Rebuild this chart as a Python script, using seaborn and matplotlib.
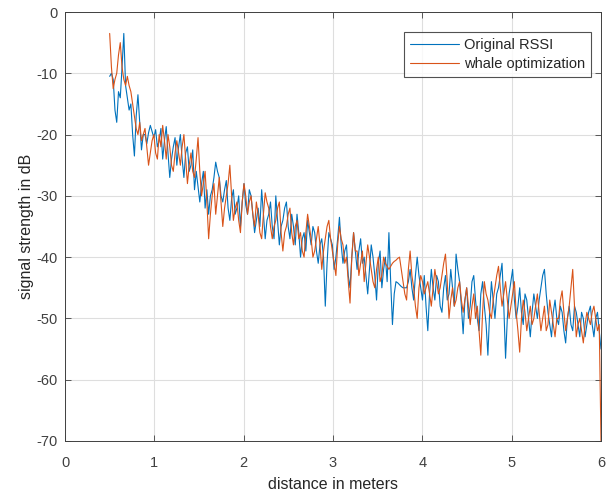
import numpy as np
import pandas as pd
import matplotlib
matplotlib.use("Agg")
import matplotlib.pyplot as plt
import seaborn as sns

blue_vals = [
    -10.5, -10, -11, -16, -18, -13, -14, -9, -3.5, -12, -14, -16, -15, -20, -23.5, -17, -13.5, -18, -22.5, -20,
    -20, -21.5, -19.7, -18.5, -19.5, -20.5, -19.2, -22, -21, -19, -24, -21, -18.7, -23, -27, -24, -22, -20.5, -25, -22,
    -20, -24, -27, -23, -22, -26, -25, -22.5, -29, -26, -28.5, -31, -28, -26, -32, -29, -33, -30, -29, -27,
    -24.5, -26, -27, -30, -31, -29, -27.5, -32, -34, -30.5, -29, -33, -32, -30, -35, -31, -28, -31.5, -33, -29,
    -30, -33, -36, -34, -32, -35, -29, -33, -37, -34, -33, -31, -35, -37, -30, -34, -38, -35, -34, -32,
    -31, -35, -37, -33, -35, -38, -33, -36, -40, -37, -36, -39, -34, -36, -38, -35, -36, -39, -41, -38,
    -37, -40, -48, -41, -36, -37, -38, -42, -40, -37, -33.5, -38, -41, -39, -38, -43, -45, -40, -36, -39,
    -42, -39, -37, -41, -40, -43, -46, -42, -38, -40, -43, -47, -41, -39, -45, -42, -40, -44, -36, -44,
    -51, -46, -44, -44.2, -44.5, -44.8, -45, -45, -45, -44, -42, -45, -47, -43, -40, -43, -45, -47, -43, -48,
    -52, -46, -42, -45, -47, -43, -44, -48, -49, -45, -43, -47, -46, -42, -45, -48, -39.5, -42, -44, -48,
    -52.5, -47, -45, -50, -48, -44, -43, -47, -50, -52, -46, -44, -48, -51, -56, -49, -44, -47, -50, -46,
    -45, -43, -41, -48, -56.5, -50, -46, -44, -42, -47, -50, -48, -45, -49, -51, -46, -47, -50, -53, -49,
    -46, -48, -50, -47, -45, -43, -42, -46, -49, -51, -53, -49, -47, -50, -51, -48, -49, -52, -54, -50,
    -48, -51, -52, -48, -49, -51, -53, -49, -50, -53, -51, -49, -48, -51, -53, -50, -49, -52, -55,
]
orange_vals = [
    -3.5, -9, -12.5, -11, -10, -7, -5, -9, -11, -12, -10.5, -12, -13, -15, -17, -19, -20, -18, -21, -20,
    -19, -22, -25, -23, -21, -20, -23, -24, -20, -22, -18.5, -21, -24, -20, -22, -25, -26, -23, -21, -23,
    -25, -22, -20, -24, -28, -25, -23, -26, -27, -24, -20.5, -26, -30, -28, -26, -31, -37, -33, -30, -28,
    -33, -30, -27, -31, -35, -32, -30, -28, -25, -30, -34, -32, -31, -34, -36, -31, -28, -30, -33, -31,
    -30, -33, -35, -31, -33, -36, -37, -33, -29.5, -31, -32, -35, -37, -35, -34, -32, -31, -36, -39, -36,
    -35, -33, -32, -36, -38, -35, -34, -37, -36, -39, -40, -36, -33, -35, -37, -40, -39, -37, -35, -38,
    -42, -39, -37, -35, -34, -37, -39, -41, -43, -38, -35, -37, -38, -41, -40, -44, -47.5, -40, -36, -39,
    -39, -43, -41, -39, -44, -41, -38, -40, -42, -44, -45, -42, -40, -44, -43, -40, -41, -41.5, -42, -41.5,
    -41, -40.7, -40.5, -40.2, -40, -42, -44, -46, -47, -42, -39, -43, -45, -48, -50, -45, -43, -44, -46, -45,
    -44, -46, -48, -45, -42, -44, -46, -45, -43, -41, -39.5, -44, -50, -47, -45, -48, -47, -45, -44, -47,
    -49, -47, -45, -48, -51, -48, -46, -50, -48, -52, -56, -49, -44, -46, -47, -49, -50, -47, -45, -43,
    -41.5, -45, -48, -46, -44, -47, -50, -48, -46, -44, -49, -52, -55.5, -50, -47, -49, -52, -50, -48, -51,
    -50, -48, -46, -49, -52, -50, -48, -52, -51, -47, -49, -51, -53, -50, -50, -47, -45.5, -49, -52, -50,
    -48, -45, -42, -48, -53, -51, -50, -52, -54, -51, -49, -50, -51, -49, -48, -50, -52, -51, -70,
]
x_start, x_end = 0.5, 6.0
series_names = ["Original RSSI", "whale optimization"]
x_ticks = [0, 1, 2, 3, 4, 5, 6]
y_ticks = [-70, -60, -50, -40, -30, -20, -10, 0]

xb = np.linspace(x_start, x_end, len(blue_vals))
xo = np.linspace(x_start, x_end, len(orange_vals))
df = pd.concat([
    pd.DataFrame({"x": xb, "y": blue_vals, "series": series_names[0]}),
    pd.DataFrame({"x": xo, "y": orange_vals, "series": series_names[1]}),
], ignore_index=True)

sns.set_theme(style="whitegrid")
plt.rcParams['font.family'] = ['Liberation Sans', 'DejaVu Sans']

fig = plt.figure(figsize=(6.06, 4.91), dpi=100)
ax = fig.add_axes([65/606, 1-441/491, (601-65)/606, (441-12)/491])
sns.lineplot(data=df, x="x", y="y", hue="series", sort=False,
             palette=["#0072BD", "#D95319"], linewidth=0.8, ax=ax, estimator=None)

ax.set_xlim(0, 6)
ax.set_ylim(-70, 0)
ax.set_xticks(x_ticks)
ax.set_yticks(y_ticks)
ax.set_xticklabels([str(t) for t in x_ticks])
ax.set_yticklabels([str(t) for t in y_ticks])
ax.grid(True, color="#dedede", linewidth=0.8)
for s in ax.spines.values():
    s.set_color("#404040")
    s.set_linewidth(0.7)
    s.set_visible(True)
ax.tick_params(direction="in", length=4, width=0.6, colors="#404040",
               labelsize=10.5, top=True, right=True, bottom=True, left=True)
ax.tick_params(axis="x", pad=10.5)
ax.tick_params(axis="y", pad=5)
ax.set_xlabel("distance in meters", fontsize=11.5, color="#262626", labelpad=5)
ax.set_ylabel("signal strength in dB", fontsize=11.5, color="#262626", labelpad=2)
ax.set_facecolor("white")

leg = ax.legend(loc="upper right", bbox_to_anchor=((591-65)/536, 1-(32-12)/429), fontsize=10.5,
                handlelength=3.35, frameon=True, fancybox=False, borderpad=0.4,
                labelspacing=0.37, handletextpad=0.35, borderaxespad=0)
leg.get_frame().set_edgecolor("#262626")
leg.get_frame().set_linewidth(0.8)
leg.set_title(None)

fig.savefig("out.png", dpi=100, facecolor="white")
